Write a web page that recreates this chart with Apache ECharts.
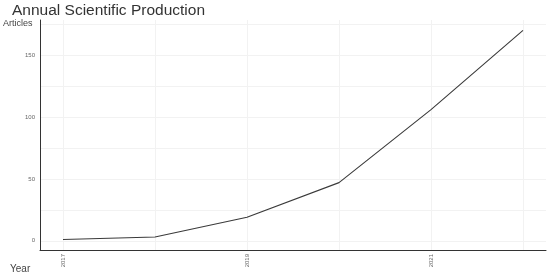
<!DOCTYPE html>
<html>
<head>
<meta charset="utf-8">
<script src="https://cdn.jsdelivr.net/npm/echarts@6/dist/echarts.min.js"></script>
<style>html,body{margin:0;padding:0;background:#fff}#c{width:550px;height:275px}</style>
</head>
<body>
<div id="c"></div>
<script>
var years = [2017, 2018, 2019, 2020, 2021, 2022];
var articles = [1, 3, 19, 47, 106, 170];
var xLabelYears = [2017, 2019, 2021];
var yTickValues = [0, 50, 100, 150];
var yGridValues = [0, 25, 50, 75, 100, 125, 150, 175];

var font = 'Liberation Sans, Arial';
var chart = echarts.init(document.getElementById('c'));
chart.setOption({
  animation: false,
  title: [{
    text: 'Annual Scientific Production',
    left: 12, top: 3, padding: 0,
    textStyle: { fontFamily: font, fontSize: 15.5, fontWeight: 'normal', color: '#333' }
  }, {
    text: 'Articles', left: 3, top: 19, padding: 0,
    textStyle: { fontFamily: font, fontSize: 9, fontWeight: 'normal', color: '#444' }
  }, {
    text: 'Year', left: 10, top: 264, padding: 0,
    textStyle: { fontFamily: font, fontSize: 10, fontWeight: 'normal', color: '#444' }
  }],
  grid: { left: 40, right: 4, top: 20, bottom: 25, outerBoundsMode: 'none', containLabel: false },
  xAxis: {
    type: 'value',
    min: 2016.75, max: 2022.25,
    axisLine: { show: true, onZero: false, lineStyle: { color: '#333', width: 1 } },
    axisTick: { show: false, customValues: years },
    axisLabel: {
      customValues: xLabelYears, rotate: 90, fontSize: 6, color: '#666', margin: 4,
      fontFamily: font,
      formatter: function (v) { return String(v); }
    },
    splitLine: { show: true, lineStyle: { color: '#f2f2f2', width: 1 } }
  },
  yAxis: {
    type: 'value',
    min: -7.45, max: 178.45,
    axisLine: { show: true, onZero: false, lineStyle: { color: '#333', width: 1 } },
    axisTick: { show: false, customValues: yGridValues },
    axisLabel: { customValues: yTickValues, fontSize: 6, color: '#666', margin: 5, fontFamily: font },
    splitLine: { show: true, lineStyle: { color: '#f2f2f2', width: 1 } }
  },
  series: [{
    type: 'line',
    data: years.map(function (y, i) { return [y, articles[i]]; }),
    symbol: 'none',
    lineStyle: { color: '#3a3a3a', width: 1.1 }
  }]
});
</script>
</body>
</html>
